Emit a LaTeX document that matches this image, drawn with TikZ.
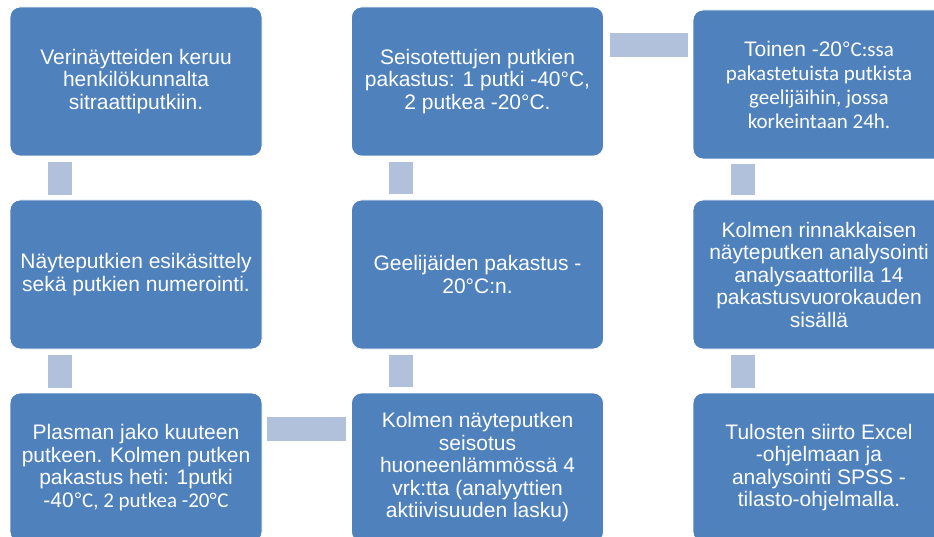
\documentclass[tikz,border=0pt]{standalone}
\usepackage{fontspec}
\setmainfont{Liberation Sans}
\newfontfamily\calfont{Carlito}
\definecolor{boxblue}{HTML}{4F81BD}
\definecolor{connblue}{HTML}{B1C1DB}
\tikzset{
  stepbox/.style={rectangle, rounded corners=10pt, fill=boxblue, draw=white, line width=0.8pt,
    minimum width=252pt, minimum height=149pt, inner sep=0pt, text=white, align=center,
    font=\fontsize{21}{22.5}\selectfont},
  conn/.style={draw=connblue, line width=24pt, line cap=butt}
}
\begin{document}
\begin{tikzpicture}[x=1pt,y=-1pt]
\useasboundingbox (0,0) rectangle (934,537);
\clip (0,0) rectangle (934,537);
% column 1
\node[stepbox] (b1) at (136,81.5) {Verinäytteiden keruu\\henkilökunnalta\\sitraattiputkiin.};
\node[stepbox] (b2) at (136,274.5) {Näyteputkien esikäsittely\\sekä putkien numerointi.};
\node[stepbox] (b3) at (136,467.5) {Plasman jako kuuteen\\putkeen. Kolmen putken\\pakastus heti: 1putki\\-40°{\calfont C, 2 putkea -20°\kern0.6pt C}};
% column 2
\node[stepbox] (b4) at (477.5,81.5) {Seisotettujen putkien\\pakastus: 1 putki -40°C,\\2 putkea -20°C.};
\node[stepbox] (b5) at (477.5,274.5) {\raisebox{-14pt}{\parbox{250pt}{\centering Geelijäiden pakastus -\\20°C:n.}}};
\node[stepbox] (b6) at (477.5,467.5) {Kolmen näyteputken\\seisotus\\huoneenlämmössä 4\\vrk:tta (analyyttien\\aktiivisuuden lasku)};
% column 3
\node[stepbox, font=\fontsize{21}{24}\selectfont] (b7) at (819,84.5) {Toinen -20°{\calfont C:ssa}\\{\calfont pakastetuista putkista}\\{\calfont geelijäihin, jossa}\\{\calfont korkeintaan 24h.}};
\node[stepbox] (b8) at (819,274.5) {Kolmen rinnakkaisen\\näyteputken analysointi\\analysaattorilla 14\\pakastusvuorokauden\\sisällä};
\node[stepbox] (b9) at (819,467.5) {Tulosten siirto Excel\\-ohjelmaan ja\\analysointi SPSS -\\tilasto-ohjelmalla.};
% connectors
\draw[conn] ([xshift=50pt,yshift=-6pt]b1.south west) -- ([xshift=50pt,yshift=5pt]b2.north west);
\draw[conn] ([xshift=50pt,yshift=-6pt]b2.south west) -- ([xshift=50pt,yshift=5pt]b3.north west);
\draw[conn] ([xshift=5pt,yshift=-36pt]b3.north east) -- ([xshift=-5pt,yshift=-36pt]b6.north west);
\draw[conn] ([xshift=50pt,yshift=6pt]b6.north west) -- ([xshift=50pt,yshift=-6pt]b5.south west);
\draw[conn] ([xshift=50pt,yshift=6pt]b5.north west) -- ([xshift=50pt,yshift=-6pt]b4.south west);
\coordinate (h1) at ([xshift=6pt,yshift=-38pt]b4.north east);
\draw[conn] (h1) -- ([xshift=-5pt]h1 -| b7.west);
\draw[conn] ([xshift=50pt,yshift=-5pt]b7.south west) -- ([xshift=50pt,yshift=5pt]b8.north west);
\draw[conn] ([xshift=50pt,yshift=-6pt]b8.south west) -- ([xshift=50pt,yshift=5pt]b9.north west);
\end{tikzpicture}
\end{document}
